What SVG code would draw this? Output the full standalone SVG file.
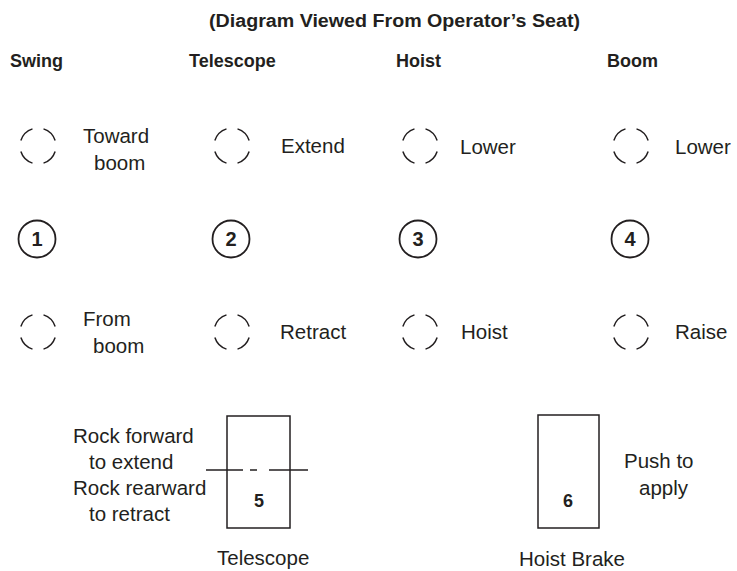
<svg xmlns="http://www.w3.org/2000/svg" width="737" height="571" viewBox="0 0 737 571">
<style>
text{font-family:"Liberation Sans",Arial,sans-serif;fill:#231f20}
.t{font-size:20.5px}
.h{font-size:18px;font-weight:bold}
.n{font-size:18px;font-weight:bold;text-anchor:middle}
.nb{font-size:20px;font-weight:bold;text-anchor:middle}
.dc{fill:none;stroke:#231f20;stroke-width:1.5;stroke-dasharray:54 36;stroke-dashoffset:-18}
.nc{fill:none;stroke:#231f20;stroke-width:1.8}
.ln{fill:none;stroke:#231f20;stroke-width:1.5}
</style>
<rect width="737" height="571" fill="#fff"/>
<text id="title" x="209" y="27" class="h" font-size="19" textLength="371" lengthAdjust="spacingAndGlyphs">(Diagram Viewed From Operator’s Seat)</text>
<g id="headers">
<text x="10" y="67" class="h">Swing</text>
<text x="189" y="67" class="h">Telescope</text>
<text x="396" y="67" class="h">Hoist</text>
<text x="607" y="67" class="h">Boom</text>
</g>
<g id="swing">
<circle cx="38" cy="146" r="18" pathLength="360" class="dc"/>
<text x="83" y="143" class="t">Toward</text>
<text x="94" y="170" class="t">boom</text>
<circle cx="37" cy="239" r="18.5" class="nc"/>
<text x="37" y="246" class="nb">1</text>
<circle cx="38" cy="332" r="18" pathLength="360" class="dc"/>
<text x="83" y="326" class="t">From</text>
<text x="93" y="353" class="t">boom</text>
</g>
<g id="telescope">
<circle cx="232" cy="146" r="18" pathLength="360" class="dc"/>
<text x="281" y="153" class="t">Extend</text>
<circle cx="231" cy="239" r="18.5" class="nc"/>
<text x="231" y="246" class="nb">2</text>
<circle cx="232" cy="332" r="18" pathLength="360" class="dc"/>
<text x="280" y="339" class="t">Retract</text>
</g>
<g id="hoist">
<circle cx="420" cy="146" r="18" pathLength="360" class="dc"/>
<text x="460" y="154" class="t">Lower</text>
<circle cx="418" cy="239" r="18.5" class="nc"/>
<text x="418" y="246" class="nb">3</text>
<circle cx="420" cy="332" r="18" pathLength="360" class="dc"/>
<text x="461" y="339" class="t">Hoist</text>
</g>
<g id="boom">
<circle cx="631" cy="146" r="18" pathLength="360" class="dc"/>
<text x="675" y="154" class="t">Lower</text>
<circle cx="630" cy="239" r="18.5" class="nc"/>
<text x="630" y="246" class="nb">4</text>
<circle cx="631" cy="332" r="18" pathLength="360" class="dc"/>
<text x="675" y="339" class="t">Raise</text>
</g>
<g id="switch5">
<rect x="227" y="416" width="63" height="112" class="ln"/>
<path d="M206 470H243M250 470H257M269 470H308" class="ln"/>
<text x="259" y="507" class="n">5</text>
<text x="73" y="443" class="t">Rock forward</text>
<text x="89" y="469" class="t">to extend</text>
<text x="73" y="495" class="t">Rock rearward</text>
<text x="89" y="521" class="t">to retract</text>
<text x="217" y="565" class="t">Telescope</text>
</g>
<g id="switch6">
<rect x="538" y="415" width="61" height="113" class="ln"/>
<text x="568" y="507" class="n">6</text>
<text x="624" y="468" class="t">Push to</text>
<text x="639" y="495" class="t">apply</text>
<text x="519" y="566" class="t">Hoist Brake</text>
</g>
<g id="connectors"/>
</svg>
